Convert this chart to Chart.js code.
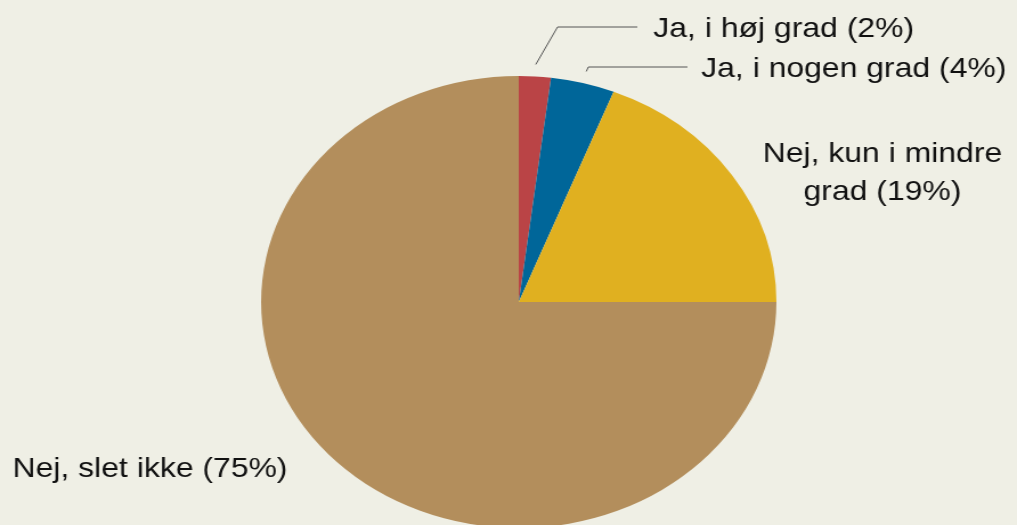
<!DOCTYPE html>
<html>
<head>
<meta charset="utf-8">
<script src="https://cdn.jsdelivr.net/npm/chart.js@4"></script>
<style>
  html, body { margin: 0; padding: 0; background: #EFEFE5; overflow: hidden; }
  /* the original picture is stretched horizontally, so we stretch the whole chart */
  #wrap {
    position: absolute; left: 0; top: 0;
    width: 892px; height: 525px; overflow: hidden;
    transform: scaleX(1.1401); transform-origin: 0 0;
  }
</style>
</head>
<body>
<div id="wrap"><canvas id="pie" width="892" height="604"></canvas></div>
<script>
// data
const categories = ['Ja, i høj grad', 'Ja, i nogen grad', 'Nej, kun i mindre grad', 'Nej, slet ikke'];
const shares = [2, 4, 19, 75];
const sliceColors = ['#BA4446', '#006699', '#E0B020', '#B38E5C'];

// where each label goes (unstretched canvas coordinates)
const labelLayout = [
    { x: 573, y: [37], align: 'left', split: null, elbow: [489, 27], end: [559, 27] },
    { x: 615, y: [77], align: 'left', split: null, elbow: [516, 67], end: [603, 67] },
    { x: 774, y: [162, 200], align: 'center', split: 4, elbow: null },
    { x: 11, y: [477], align: 'left', split: null, elbow: null }
];

const labelPlugin = {
    id: 'pieLabels',
    afterDraw(chart) {
        const ctx = chart.ctx;
        const arcs = chart.getDatasetMeta(0).data;
        ctx.save();
        ctx.font = '28px "Liberation Sans", Arial, sans-serif';
        ctx.fillStyle = '#111';
        ctx.strokeStyle = '#555';
        ctx.lineWidth = 1;
        categories.forEach((cat, i) => {
            const lay = labelLayout[i];
            const text = cat + ' (' + shares[i] + '%)';
            let lines = [text];
            if (lay.split) {
                const words = text.split(' ');
                lines = [words.slice(0, lay.split).join(' '), words.slice(lay.split).join(' ')];
            }
            ctx.textAlign = lay.align;
            ctx.textBaseline = 'alphabetic';
            lines.forEach((ln, k) => ctx.fillText(ln, lay.x, lay.y[k]));

            if (lay.elbow) {
                const arc = arcs[i];
                const mid = (arc.startAngle + arc.endAngle) / 2;
                const r = arc.outerRadius + 12;
                const sx = arc.x + Math.cos(mid) * r;
                const sy = arc.y + Math.sin(mid) * r;
                ctx.beginPath();
                ctx.moveTo(sx, sy);
                ctx.lineTo(lay.elbow[0], lay.elbow[1]);
                ctx.lineTo(lay.end[0], lay.end[1]);
                ctx.stroke();
            }
        });
        ctx.restore();
    }
};

new Chart(document.getElementById('pie'), {
    type: 'pie',
    data: {
        labels: categories,
        datasets: [{
            data: shares,
            backgroundColor: sliceColors,
            borderWidth: 0
        }]
    },
    options: {
        responsive: false,
        animation: false,
        layout: { padding: { left: 229, right: 211, top: 76, bottom: 76 } },
        plugins: {
            legend: { display: false },
            tooltip: { enabled: false }
        }
    },
    plugins: [labelPlugin]
});
</script>
</body>
</html>
